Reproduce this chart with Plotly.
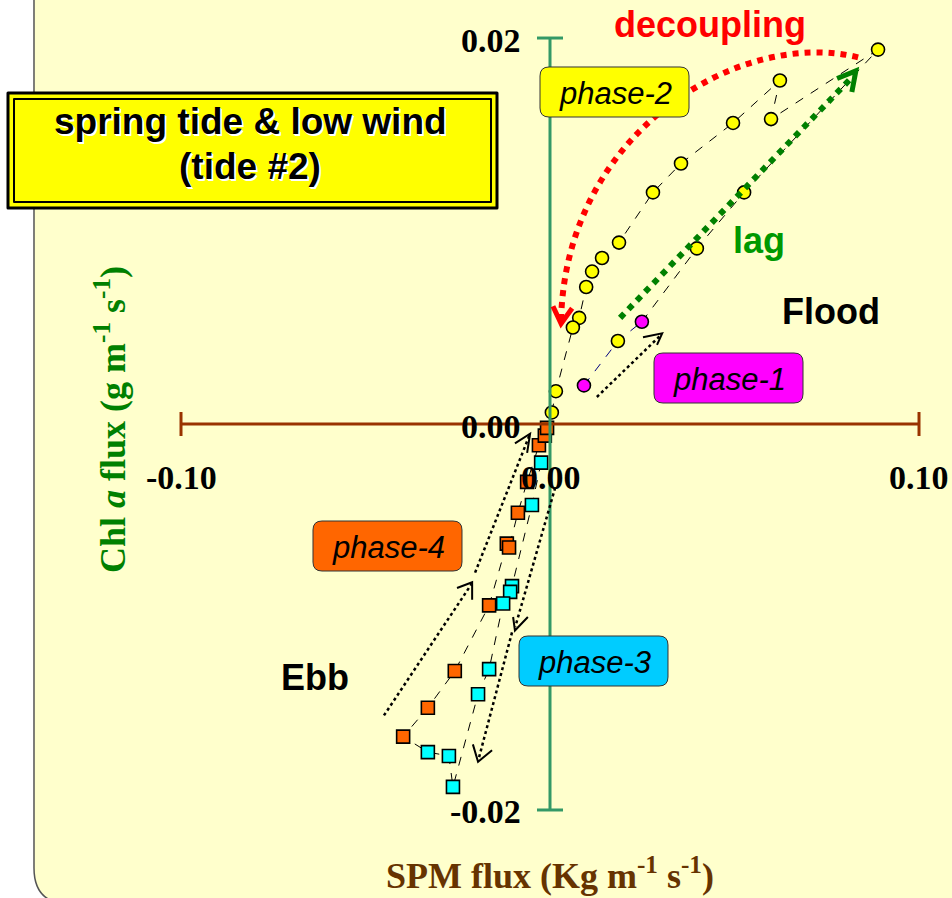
import plotly.graph_objects as go

W, H = 952, 898

# ---------------------------------------------------------------------------
# Data: SPM flux (kg m-1 s-1) vs Chl a flux (g m-1 s-1), listed in time order
# ---------------------------------------------------------------------------
flood_spm = [0.0092, 0.0184, 0.0249, 0.0398, 0.0526, 0.0889, 0.0599, 0.0623,
             0.0496, 0.0355, 0.0279, 0.0187, 0.0141, 0.0114, 0.0098, 0.0079,
             0.0062, 0.0016, 0.0005]
flood_chl = [0.0020, 0.0043, 0.0053, 0.0091, 0.0120, 0.0194, 0.0158, 0.0178,
             0.0156, 0.0135, 0.0120, 0.0094, 0.0086, 0.0079, 0.0071, 0.0055,
             0.0050, 0.0017, 0.0006]
flood_phase = [1, 2, 1, 2, 2, 2, 2, 2, 2, 2, 2, 2, 2, 2, 2, 2, 2, 2, 2]

ebb_spm = [-0.0024, -0.0049, -0.0103, -0.0108, -0.0127, -0.0165, -0.0195,
           -0.0263, -0.0274, -0.0331,
           -0.0398, -0.0331, -0.0258, -0.0165, -0.0117, -0.0111, -0.0087,
           -0.0062, -0.0030, -0.0014, -0.0008]
ebb_chl = [-0.0020, -0.0042, -0.0084, -0.0087, -0.0093, -0.0127, -0.0140,
           -0.0188, -0.0172, -0.0170,
           -0.0162, -0.0147, -0.0128, -0.0094, -0.0062, -0.0064, -0.0046,
           -0.0030, -0.0011, -0.0006, -0.0002]
ebb_phase = [3] * 10 + [4] * 11

x_ticks = [-0.10, 0.00, 0.10]
x_tick_text = ["-0.10", "0.00", "0.10"]
y_ticks = [0.02, 0.00, -0.02]
y_tick_text = ["0.02", "0.00", "-0.02"]

X_RANGE = [-0.14905, 0.10894]
Y_RANGE = [-0.02456, 0.02197]
X_PER_PX = (X_RANGE[1] - X_RANGE[0]) / W
Y_PER_PX = (Y_RANGE[1] - Y_RANGE[0]) / H

phase_style = {
    1: dict(symbol="circle", color="#FF00FF"),
    2: dict(symbol="circle", color="#FFFF00"),
    3: dict(symbol="square", color="#00FFFF"),
    4: dict(symbol="square", color="#FF6600"),
}

fig = go.Figure()

# connecting dashed paths
fig.add_trace(go.Scatter(x=ebb_spm, y=ebb_chl, mode="lines",
                         line=dict(color="black", width=1, dash="dash"),
                         hoverinfo="skip", showlegend=False))
fig.add_trace(go.Scatter(x=flood_spm[2:], y=flood_chl[2:], mode="lines",
                         line=dict(color="black", width=1, dash="dash"),
                         hoverinfo="skip", showlegend=False))
fig.add_trace(go.Scatter(x=flood_spm[:3], y=flood_chl[:3], mode="lines",
                         line=dict(color="#000080", width=1, dash="dash"),
                         hoverinfo="skip", showlegend=False))


def phase_trace(xs, ys, phases, p):
    sel = [i for i, q in enumerate(phases) if q == p]
    st = phase_style[p]
    return go.Scatter(
        x=[xs[i] for i in sel], y=[ys[i] for i in sel], mode="markers",
        marker=dict(symbol=st["symbol"], size=13, color=st["color"],
                    line=dict(color="black", width=1.6)),
        name=f"phase-{p}", showlegend=False)


fig.add_trace(phase_trace(ebb_spm, ebb_chl, ebb_phase, 3))
fig.add_trace(phase_trace(ebb_spm, ebb_chl, ebb_phase, 4))
fig.add_trace(phase_trace(flood_spm, flood_chl, flood_phase, 1))
fig.add_trace(phase_trace(flood_spm, flood_chl, flood_phase, 2))

shapes = []


def paper(px, py):
    return px / W, 1 - py / H


def rounded_rect(x0, y0, x1, y1, r):
    def P(a, b):
        u, v = paper(a, b)
        return f"{u:.5f},{v:.5f}"
    return " ".join([
        f"M {P(x0 + r, y0)}", f"L {P(x1 - r, y0)}",
        f"Q {P(x1, y0)} {P(x1, y0 + r)}", f"L {P(x1, y1 - r)}",
        f"Q {P(x1, y1)} {P(x1 - r, y1)}", f"L {P(x0 + r, y1)}",
        f"Q {P(x0, y1)} {P(x0, y1 - r)}", f"L {P(x0, y0 + r)}",
        f"Q {P(x0, y0)} {P(x0 + r, y0)} Z"])


# background panel
shapes.append(dict(type="path", xref="paper", yref="paper", layer="below",
                   path=rounded_rect(34, -60, 1020, 904, 36),
                   fillcolor="#FFFFCC", line=dict(color="#555555", width=1.5)))

# axis lines with end caps
cap_x = 12 * Y_PER_PX
cap_y = 13 * X_PER_PX
shapes.append(dict(type="line", xref="x", yref="y", x0=x_ticks[0], x1=x_ticks[-1],
                   y0=0, y1=0, line=dict(color="#993300", width=3)))
for xv in (x_ticks[0], x_ticks[-1]):
    shapes.append(dict(type="line", xref="x", yref="y", x0=xv, x1=xv,
                       y0=-cap_x, y1=cap_x, line=dict(color="#993300", width=3)))
shapes.append(dict(type="line", xref="x", yref="y", x0=0, x1=0,
                   y0=y_ticks[-1], y1=y_ticks[0],
                   line=dict(color="#339966", width=3)))
for yv in (y_ticks[0], y_ticks[-1]):
    shapes.append(dict(type="line", xref="x", yref="y", x0=-cap_y, x1=cap_y,
                       y0=yv, y1=yv, line=dict(color="#339966", width=3)))


def pathd(points):
    return "M " + " L ".join(f"{a},{b}" for a, b in points)


def dotted_arrow(start, end, head, color, width, head_width):
    shapes.append(dict(type="line", xref="x", yref="y", layer="above",
                       x0=start[0], y0=start[1], x1=end[0], y1=end[1],
                       line=dict(color=color, width=width, dash="dot")))
    shapes.append(dict(type="path", xref="x", yref="y", layer="above",
                       path=pathd(head), line=dict(color=color, width=head_width)))


# "decoupling" curved arrow
shapes.append(dict(type="path", xref="x", yref="y", layer="above",
                   path="M 0.0835,0.0190 C 0.0515,0.0205 0.0043,0.0152 0.0030,0.0054",
                   line=dict(color="#FF0000", width=6, dash="dot")))
shapes.append(dict(type="path", xref="x", yref="y", layer="above",
                   path=pathd([(0.0008, 0.0061), (0.0030, 0.0052), (0.0060, 0.0060)]),
                   line=dict(color="#FF0000", width=5)))

# "lag" arrow
dotted_arrow((0.0190, 0.0055), (0.0825, 0.0181),
             [(0.0778, 0.0179), (0.0829, 0.0183), (0.0818, 0.0172)],
             "#008000", 6, 5)

# phase direction arrows
dotted_arrow((0.0127, 0.0014), (0.0300, 0.0046),
             [(0.0252, 0.0045), (0.0304, 0.0047), (0.0290, 0.0041)],
             "black", 2.5, 2)
dotted_arrow((-0.0450, -0.0151), (-0.0213, -0.0083),
             [(-0.0252, -0.0085), (-0.0211, -0.0082), (-0.0211, -0.0091)],
             "black", 2.5, 2)
dotted_arrow((-0.0203, -0.0077), (-0.0056, -0.0006),
             [(-0.0095, -0.0010), (-0.0054, -0.0005), (-0.0062, -0.0015)],
             "black", 2.5, 2)
dotted_arrow((0.0014, -0.0033), (-0.0094, -0.0105),
             [(-0.0100, -0.0100), (-0.0095, -0.0107), (-0.0060, -0.0100)],
             "black", 2.5, 2)
dotted_arrow((-0.0103, -0.0108), (-0.0194, -0.0174),
             [(-0.0209, -0.0166), (-0.0195, -0.0175), (-0.0157, -0.0169)],
             "black", 2.5, 2)

# phase label boxes
phase_boxes = [
    ("phase-2", (540, 67, 689, 117), "#FFFF00"),
    ("phase-1", (654, 353, 803, 403), "#FF00FF"),
    ("phase-4", (313, 521, 462, 571), "#FF6600"),
    ("phase-3", (519, 636, 668, 686), "#00CCFF"),
]
annotations = []
for label, (bx0, by0, bx1, by1), fill in phase_boxes:
    shapes.append(dict(type="path", xref="paper", yref="paper", layer="above",
                       path=rounded_rect(bx0, by0, bx1, by1, 9),
                       fillcolor=fill, line=dict(color="#333333", width=1)))
    cx, cy = paper((bx0 + bx1) / 2 + 1, (by0 + by1) / 2 + 1)
    annotations.append(dict(
        x=cx, y=cy, xref="paper", yref="paper", text=label, showarrow=False,
        xanchor="center", yanchor="middle",
        font=dict(family="Liberation Sans, Arial", size=31, color="black",
                  style="italic")))

# title box with double frame
shapes.append(dict(type="path", xref="paper", yref="paper", layer="above",
                   path=rounded_rect(8, 93, 497, 208, 0.01),
                   fillcolor="#FFFF00", line=dict(color="black", width=3)))
shapes.append(dict(type="path", xref="paper", yref="paper", layer="above",
                   path=rounded_rect(14, 99, 491, 202, 0.01),
                   line=dict(color="black", width=2)))

TITLE_SIZE = 37
title_font = dict(family="Liberation Sans, Arial", size=TITLE_SIZE, color="black",
                  weight="bold",
                  shadow="1px 1px 0px #ffffff, 2px 2px 0px #ffffff")
for txt, base, anchor in (("spring tide & low wind", 136, "bottom"),
                          ("(tide #2)", 177, "top")):
    if anchor == "bottom":
        cy = base + 0.212 * TITLE_SIZE
    else:
        cy = base - 0.905 * TITLE_SIZE
    cx, cyp = paper(250, cy)
    annotations.append(dict(x=cx, y=cyp, xref="paper", yref="paper", text=txt,
                            showarrow=False, xanchor="center", yanchor=anchor,
                            font=title_font))

bold_sans = "Liberation Sans, Arial"
for txt, (tx, ty), col in (("decoupling", (710, 25), "#FF0000"),
                           ("lag", (759, 240), "#009900"),
                           ("Flood", (831, 311), "black"),
                           ("Ebb", (315, 677), "black")):
    cx, cy = paper(tx, ty)
    annotations.append(dict(x=cx, y=cy, xref="paper", yref="paper", text=f"<b>{txt}</b>",
                            showarrow=False, xanchor="center", yanchor="middle",
                            font=dict(family=bold_sans, size=36, color=col)))

# tick labels
serif = "Liberation Serif, Times New Roman, serif"
for xv, txt in zip(x_ticks, x_tick_text):
    annotations.append(dict(x=xv, y=paper(0, 477)[1], xref="x", yref="paper",
                            text=f"<b>{txt}</b>", showarrow=False,
                            xanchor="center", yanchor="middle", xshift=1 if xv == 0 else 0,
                            font=dict(family=serif, size=34, color="black")))
for yv, txt in zip(y_ticks, y_tick_text):
    annotations.append(dict(x=paper(523, 0)[0], y=yv, xref="paper", yref="y",
                            text=f"<b>{txt}</b>", showarrow=False,
                            xanchor="right", yanchor="middle", yshift=-2,
                            font=dict(family=serif, size=34, color="black")))

# axis titles
cx, cy = paper(550, 873)
annotations.append(dict(x=cx, y=cy, xref="paper", yref="paper",
                        text="<b>SPM flux (Kg m<sup>-1</sup> s<sup>-1</sup>)</b>",
                        showarrow=False, xanchor="center", yanchor="middle",
                        font=dict(family=serif, size=36, color="#663300")))
cx, cy = paper(110, 420)
annotations.append(dict(x=cx, y=cy, xref="paper", yref="paper", textangle=-90,
                        text="<b>Chl <i>a</i> flux (g m<sup>-1</sup> s<sup>-1</sup>)</b>",
                        showarrow=False, xanchor="center", yanchor="middle",
                        font=dict(family=serif, size=36, color="#008000")))

fig.update_layout(
    width=W, height=H, margin=dict(l=0, r=0, t=0, b=0),
    paper_bgcolor="white", plot_bgcolor="rgba(0,0,0,0)",
    xaxis=dict(range=X_RANGE, visible=False, fixedrange=True),
    yaxis=dict(range=Y_RANGE, visible=False, fixedrange=True),
    shapes=shapes, annotations=annotations, showlegend=False,
)

fig.write_html("out.html")
